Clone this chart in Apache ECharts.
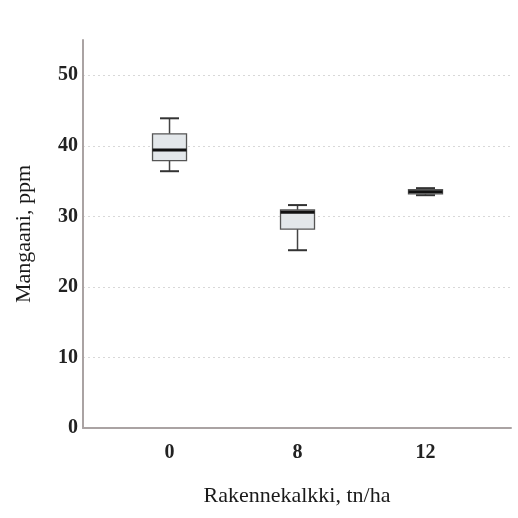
<!DOCTYPE html>
<html>
<head>
<meta charset="utf-8">
<script src="https://cdn.jsdelivr.net/npm/echarts@6/dist/echarts.min.js"></script>
<style>
html,body{margin:0;padding:0;background:#fff;}
#chart{width:518px;height:518px;}
</style>
</head>
<body>
<div id="chart"></div>
<script>
// Data
var categories = ['0', '8', '12'];
var mins    = [36.4, 25.2, 33.0];
var q1s     = [37.9, 28.2, 33.2];
var medians = [39.4, 30.6, 33.5];
var q3s     = [41.7, 30.9, 33.8];
var maxs    = [43.9, 31.6, 34.0];
var yTicks  = [0, 10, 20, 30, 40, 50];

var positions = categories.map(function (c, i) { return i + 1; });
var boxRows = positions.map(function (p, i) { return [p, mins[i], q1s[i], medians[i], q3s[i], maxs[i]]; });

var font = '"Liberation Serif", "Times New Roman", serif';
var BOX_W = 34, CAP_W = 19;

function renderBox(params, api) {
  var x = api.value(0);
  var pMin = api.coord([x, api.value(1)]);
  var pQ1 = api.coord([x, api.value(2)]);
  var pMed = api.coord([x, api.value(3)]);
  var pQ3 = api.coord([x, api.value(4)]);
  var pMax = api.coord([x, api.value(5)]);
  var cx = pMed[0];
  var lineStyle = { stroke: '#444', lineWidth: 1.5, fill: null };
  return {
    type: 'group',
    children: [
      { type: 'line', shape: { x1: cx, y1: pMin[1], x2: cx, y2: pQ1[1] }, style: lineStyle },
      { type: 'line', shape: { x1: cx, y1: pQ3[1], x2: cx, y2: pMax[1] }, style: lineStyle },
      { type: 'line', shape: { x1: cx - CAP_W / 2, y1: pMin[1], x2: cx + CAP_W / 2, y2: pMin[1] }, style: { stroke: '#333', lineWidth: 2 } },
      { type: 'line', shape: { x1: cx - CAP_W / 2, y1: pMax[1], x2: cx + CAP_W / 2, y2: pMax[1] }, style: { stroke: '#333', lineWidth: 2 } },
      { type: 'rect', shape: { x: cx - BOX_W / 2, y: pQ3[1], width: BOX_W, height: pQ1[1] - pQ3[1] },
        style: { fill: '#e3e7ea', stroke: '#555', lineWidth: 1.3 } },
      { type: 'line', shape: { x1: cx - BOX_W / 2, y1: pMed[1], x2: cx + BOX_W / 2, y2: pMed[1] }, style: { stroke: '#111', lineWidth: 3 } }
    ]
  };
}

var chart = echarts.init(document.getElementById('chart'));
chart.setOption({
  animation: false,
  backgroundColor: '#ffffff',
  grid: { left: 83, right: 7, top: 40, bottom: 90, containLabel: false },
  xAxis: {
    type: 'value',
    min: 0.324,
    max: 3.668,
    name: 'Rakennekalkki, tn/ha',
    nameLocation: 'middle',
    nameGap: 57,
    nameTextStyle: { fontFamily: font, fontSize: 22, color: '#1a1a1a' },
    axisLine: { show: true, lineStyle: { color: '#aaa3a3', width: 2 } },
    axisTick: { show: false },
    splitLine: { show: false },
    axisLabel: {
      customValues: positions,
      formatter: function (v) { var i = Math.round(v) - 1; return categories[i] !== undefined ? categories[i] : ''; },
      fontFamily: font, fontSize: 20, fontWeight: 'bold', color: '#222', margin: 15
    }
  },
  yAxis: {
    type: 'value',
    min: 0,
    max: 55,
    interval: 10,
    name: 'Mangaani, ppm',
    nameLocation: 'middle',
    nameGap: 48,
    nameTextStyle: { fontFamily: font, fontSize: 22, color: '#1a1a1a' },
    axisLine: { show: true, lineStyle: { color: '#aaa3a3', width: 2 } },
    axisTick: { show: false },
    axisLabel: {
      customValues: yTicks,
      fontFamily: font, fontSize: 20, fontWeight: 'bold', color: '#222', margin: 5
    },
    splitLine: { show: true, showMaxLine: false, showMinLine: false, lineStyle: { color: '#d8d8d8', type: [2, 3], width: 1 } }
  },
  series: [
    {
      type: 'custom',
      data: boxRows,
      encode: { x: 0, y: [1, 2, 3, 4, 5] },
      renderItem: renderBox,
      silent: true
    }
  ]
});
</script>
</body>
</html>
